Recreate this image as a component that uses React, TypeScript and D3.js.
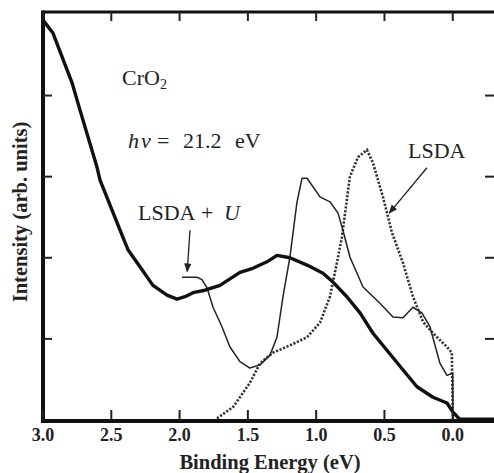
import * as d3 from 'd3'

// Binding energy (eV) / intensity (arb. units)
const expEnergy = [3.0, 2.927, 2.788, 2.729, 2.605, 2.583, 2.436, 2.378, 2.29, 2.195, 2.092, 2.019, 1.96, 1.902, 1.814, 1.704, 1.558, 1.463, 1.36, 1.287, 1.192, 1.067, 0.95, 0.877, 0.775, 0.679, 0.584, 0.482, 0.365, 0.262, 0.145, 0.042, 0.0, -0.05, -0.302]
const expIntensity = [4.93, 4.77, 4.16, 3.82, 3.12, 2.96, 2.34, 2.1, 1.89, 1.66, 1.54, 1.49, 1.52, 1.57, 1.6, 1.66, 1.82, 1.87, 1.95, 2.03, 2.0, 1.91, 1.81, 1.7, 1.52, 1.32, 1.07, 0.86, 0.62, 0.41, 0.28, 0.21, 0.1, 0.01, 0.01]

const ldauEnergy = [1.982, 1.873, 1.836, 1.799, 1.755, 1.69, 1.631, 1.558, 1.485, 1.411, 1.338, 1.287, 1.243, 1.192, 1.141, 1.104, 1.067, 0.972, 0.899, 0.84, 0.804, 0.753, 0.657, 0.533, 0.438, 0.365, 0.291, 0.226, 0.167, 0.094, 0.043, 0.0, -0.001]
const ldauIntensity = [1.76, 1.76, 1.73, 1.63, 1.39, 1.15, 0.9, 0.72, 0.64, 0.68, 0.8, 1.02, 1.52, 2.01, 2.68, 2.98, 2.98, 2.75, 2.69, 2.55, 2.34, 2.01, 1.64, 1.44, 1.27, 1.26, 1.39, 1.32, 1.15, 0.7, 0.55, 0.58, 0.01]

const lsdaEnergy = [1.726, 1.609, 1.558, 1.485, 1.411, 1.316, 1.192, 1.067, 0.972, 0.899, 0.848, 0.811, 0.753, 0.694, 0.628, 0.584, 0.511, 0.445, 0.365, 0.291, 0.218, 0.145, 0.042, 0.007, -0.001]
const lsdaIntensity = [0.02, 0.16, 0.28, 0.46, 0.7, 0.83, 0.92, 1.02, 1.2, 1.52, 1.94, 2.26, 3.0, 3.24, 3.33, 3.17, 2.75, 2.31, 1.94, 1.52, 1.21, 1.07, 0.9, 0.83, 0.01]

const xTicks = [3.0, 2.5, 2.0, 1.5, 1.0, 0.5, 0.0]
const yTicks = [1, 2, 3, 4]

type Pt = [number, number]
const zip = (a: number[], b: number[]): Pt[] => a.map((v, i) => [v, b[i]])

const W = 494
const H = 473
const serif = '"Liberation Serif", "Times New Roman", serif'

export default function App() {
  const x = d3.scaleLinear().domain([3.0, -0.302]).range([43, 494])
  const y = d3.scaleLinear().domain([0, 5.03]).range([420, 12])
  const line = d3.line<Pt>().x(d => x(d[0])).y(d => y(d[1]))

  const [x0, x1] = x.range()
  const [yb, yt] = y.range()
  const ink = '#222'

  return (
    <svg width={W} height={H} style={{ position: 'absolute', left: 0, top: 0, background: '#fff' }} fontFamily={serif}>
      <defs>
        <marker id="arr" viewBox="0 0 10 10" refX="9" refY="5" markerWidth="7" markerHeight="7" orient="auto">
          <path d="M0,1 L10,5 L0,9 z" fill={ink} />
        </marker>
      </defs>

      {/* curves */}
      <path d={line(zip(lsdaEnergy, lsdaIntensity)) || ''} fill="none" stroke="#333" strokeWidth={2.6} strokeDasharray="2.2,1.6" />
      <path d={line(zip(ldauEnergy, ldauIntensity)) || ''} fill="none" stroke={ink} strokeWidth={1.5} strokeLinejoin="round" />
      <path d={line(zip(expEnergy, expIntensity)) || ''} fill="none" stroke="#111" strokeWidth={3.4} strokeLinejoin="round" />

      {/* frame */}
      <line x1={x0} x2={x1} y1={yt} y2={yt} stroke="#111" strokeWidth={3} />
      <line x1={x0} x2={x0} y1={yt - 1.5} y2={yb + 3} stroke="#111" strokeWidth={4} />
      <line x1={x0 - 2} x2={x1} y1={yb + 1} y2={yb + 1} stroke="#111" strokeWidth={4} />

      {xTicks.map(t => (
        <g key={t}>
          <line x1={x(t)} x2={x(t)} y1={yt} y2={yt + 9} stroke={ink} strokeWidth={2} />
          <line x1={x(t)} x2={x(t)} y1={yb} y2={yb - 10} stroke={ink} strokeWidth={2} />
          <text x={x(t)} y={441} textAnchor="middle" fontSize={18} fontWeight="bold" fill={ink}>{t.toFixed(1)}</text>
        </g>
      ))}
      {yTicks.map(t => (
        <g key={t}>
          <line x1={x0} x2={x0 + 9} y1={y(t)} y2={y(t)} stroke={ink} strokeWidth={2} />
          <line x1={x1 - 9} x2={x1} y1={y(t)} y2={y(t)} stroke={ink} strokeWidth={2} />
        </g>
      ))}

      {/* axis titles */}
      <text x={270} y={469} textAnchor="middle" fontSize={20.5} fontWeight="bold" fill={ink}>Binding Energy (eV)</text>
      <text transform="translate(27,212) rotate(-90)" textAnchor="middle" fontSize={20.5} fontWeight="bold" fill={ink}>Intensity (arb. units)</text>

      {/* annotations */}
      <g fontSize={22} fill={ink}>
        <text x={122} y={85}>CrO<tspan fontSize={14} dy={4}>2</tspan></text>
        <text y={148}>
          <tspan x={128} fontStyle="italic">h</tspan>
          <tspan x={141} fontStyle="italic">ν</tspan>
          <tspan x={157}>=</tspan>
          <tspan x={183}>21.2</tspan>
          <tspan x={235}>eV</tspan>
        </text>
        <text y={220}>
          <tspan x={138}>LSDA</tspan>
          <tspan x={201}>+</tspan>
          <tspan x={224} fontStyle="italic">U</tspan>
        </text>
        <text x={408} y={158}>LSDA</text>
      </g>
      <line x1={x(1.924)} y1={y(2.34)} x2={x(1.944)} y2={y(1.83)} stroke={ink} strokeWidth={1.3} markerEnd="url(#arr)" />
      <line x1={x(0.189)} y1={y(3.11)} x2={x(0.465)} y2={y(2.55)} stroke={ink} strokeWidth={1.3} markerEnd="url(#arr)" />
    </svg>
  )
}
